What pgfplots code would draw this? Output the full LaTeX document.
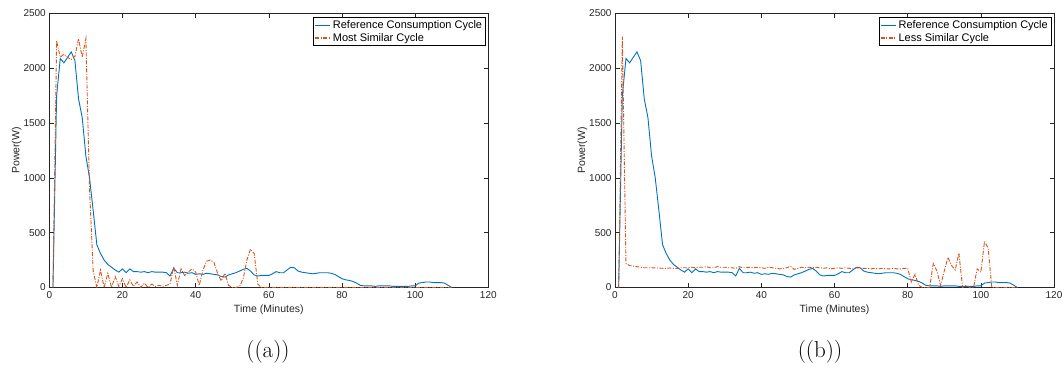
\documentclass[border=0pt]{standalone}
\usepackage{fontspec}
\setsansfont{Liberation Sans}
\usepackage{pgfplots}
\pgfplotsset{compat=1.18}
\usepackage{pgfplotstable}
\definecolor{mblue}{rgb}{0,0.447,0.741}
\definecolor{morange}{rgb}{0.85,0.325,0.098}
\definecolor{axgray}{rgb}{0.15,0.15,0.15}

\pgfplotstableread{
x y
1 0
2 1750
3 2090
4 2050
5 2100
6 2150
7 2070
8 1720
9 1550
10 1200
11 1000
12 700
13 390
14 310
15 250
16 210
17 185
18 160
19 140
20 170
21 135
22 170
23 145
24 145
25 140
26 145
27 135
28 145
29 140
30 140
31 140
32 135
33 105
34 175
35 135
36 135
37 140
38 130
39 135
40 120
41 125
42 120
43 130
44 125
45 120
46 115
47 100
48 95
49 115
50 125
51 135
52 150
53 165
54 175
55 150
56 115
57 105
58 110
59 110
60 110
61 125
62 145
63 135
64 135
65 160
66 185
67 180
68 150
69 140
70 135
71 130
72 125
73 130
74 135
75 135
76 135
77 130
78 120
79 100
80 80
81 70
82 65
83 55
84 40
85 20
86 15
87 15
88 15
89 10
90 15
91 15
92 15
93 15
94 10
95 10
96 10
97 10
98 10
99 15
100 15
101 40
102 45
103 50
104 50
105 45
106 45
107 45
108 40
109 20
110 0
}\refdata

\pgfplotstableread{
x y
1 0
2 2250
3 2100
4 2130
5 2100
6 2080
7 2110
8 2270
9 2100
10 2270
11 900
12 150
13 0
14 160
15 0
16 130
17 0
18 100
19 10
20 80
21 0
22 70
23 10
24 50
25 0
26 40
27 0
28 30
29 10
30 20
31 10
32 20
33 30
34 190
35 20
36 170
37 110
38 140
39 170
40 140
41 20
42 160
43 240
44 250
45 230
46 130
47 60
48 130
49 20
50 0
51 0
52 10
53 80
54 250
55 350
56 310
57 30
58 0
60 0
70 0
80 0
90 0
100 0
110 0
}\mostdata

\pgfplotstableread{
x y
1 0
2 2290
3 220
4 200
5 195
6 190
7 185
8 180
9 180
10 180
11 178
12 178
13 175
14 175
15 178
16 175
17 175
18 180
19 180
20 180
21 185
22 180
23 185
24 185
25 190
26 180
27 180
28 190
29 185
30 185
31 180
32 180
33 175
34 190
35 180
36 180
37 185
38 180
39 185
40 180
41 175
42 185
43 180
44 175
45 170
46 175
47 180
48 195
49 165
50 175
51 185
52 180
53 185
54 180
55 185
56 180
57 175
58 180
59 170
60 175
61 180
62 175
63 180
64 175
65 170
66 180
67 175
68 175
69 175
70 170
71 175
72 170
73 175
74 170
75 170
76 175
77 170
78 170
79 175
80 175
81 50
82 120
83 20
84 0
85 0
86 0
87 220
88 150
89 20
90 150
91 275
92 200
93 160
94 315
95 0
96 20
97 0
98 0
99 170
100 140
101 420
102 360
103 0
104 0
105 0
110 0
}\lessdata

\pgfplotsset{
  mstyle/.style={
    scale only axis,
    width=439pt, height=274pt,
    xmin=0, xmax=120, ymin=0, ymax=2500,
    xtick={0,20,...,120}, ytick={0,500,...,2500},
    tick align=inside,
    major tick length=4.5pt,
    axis line style={axgray, line width=0.5pt},
    every tick/.style={axgray, line width=0.5pt},
    scaled ticks=false,
    /pgf/number format/1000 sep={},
    /pgf/number format/assume math mode=true,
    tick label style={font=\sffamily\fontsize{10}{12}\selectfont, text=axgray},
    label style={font=\sffamily\fontsize{10.5}{12}\selectfont, text=axgray},
    xlabel={Time (Minutes)},
    ylabel={Power(W)},
    ylabel shift=-5pt,
    legend style={at={(1,1)}, anchor=north east, xshift=-3pt, yshift=-4pt,
      font=\sffamily\fontsize{11}{12}\selectfont, draw=black, fill=white,
      inner sep=1pt, row sep=-1pt, nodes={anchor=west}},
  },
  refline/.style={color=mblue, line width=0.9pt,
    legend image code/.code={\draw[mblue, line width=1.3pt] (0pt,0pt) -- (15pt,0pt);}},
  simline/.style={color=morange, line width=0.9pt, dash pattern=on 4pt off 1.5pt on 1pt off 1.5pt,
    legend image code/.code={\draw[morange, line width=1.3pt, dash pattern=on 4pt off 1.5pt on 1pt off 1.5pt] (0pt,0pt) -- (15pt,0pt);}},
}

\begin{document}
\begin{tikzpicture}
\path[use as bounding box] (0,0) rectangle (1064pt,370pt);
\begin{axis}[mstyle, at={(49.3pt,82.5pt)}, anchor=south west]
\addplot[refline] table[x=x,y=y] {\refdata};
\addlegendentry{Reference Consumption Cycle}
\addplot[simline] table[x=x,y=y] {\mostdata};
\addlegendentry{Most Similar Cycle}
\end{axis}
\begin{axis}[mstyle, at={(615pt,82.5pt)}, anchor=south west]
\addplot[refline] table[x=x,y=y] {\refdata};
\addlegendentry{Reference Consumption Cycle}
\addplot[simline] table[x=x,y=y] {\lessdata};
\addlegendentry{Less Similar Cycle}
\end{axis}
\node[font=\fontsize{23}{27}\selectfont] at (268pt,18pt) {((a))};
\node[font=\fontsize{23}{27}\selectfont] at (820pt,18pt) {((b))};
\end{tikzpicture}
\end{document}
